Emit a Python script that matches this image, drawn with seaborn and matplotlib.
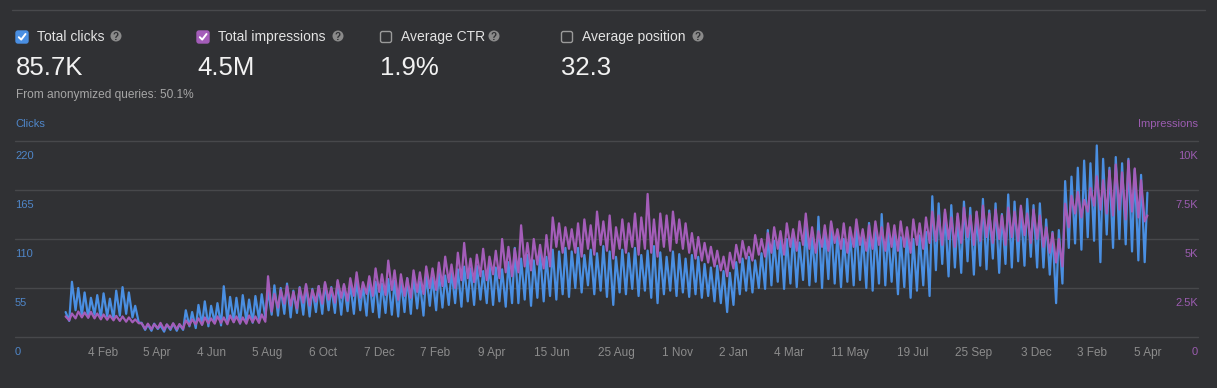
import matplotlib
matplotlib.use('Agg')
import matplotlib.pyplot as plt
import matplotlib.transforms as mtransforms
from matplotlib.patches import FancyBboxPatch, Circle
from matplotlib.lines import Line2D
import seaborn as sns
import pandas as pd

# weekly peaks (Tuesday) and troughs (Saturday)
week_start = '2018-12-24'
clicks_hi = [28, 62,
             55, 50, 44, 47, 49, 43, 52, 56, 50, 35,
             16, 14, 15, 13, 14, 15, 14,
             30, 28, 36, 40, 35, 38, 57, 45, 44, 47, 42, 46,
             48, 52, 58, 55, 60, 52, 56, 58, 54, 57, 60, 56, 62, 58, 60, 64, 58, 66, 62, 60, 65, 63,
             64, 66, 68, 62, 70, 67, 72, 69, 74, 76, 79, 77, 80, 74, 82, 78, 76, 84,
             100, 88, 92, 86, 94, 90, 98, 96, 100,
             96, 100, 92, 98, 94, 102, 96, 90, 98, 94, 100, 92, 97, 102, 95, 90, 96, 93, 88, 92, 90,
             82, 78, 80, 74, 72, 84, 88, 90, 86, 94,
             120, 108, 115, 110, 118, 106, 125, 112, 135, 120, 128, 116, 110, 118, 124, 115, 128, 120, 138, 118,
             116, 112, 120, 110, 114, 118,
             158, 150, 140, 148, 135, 152, 145, 140, 155, 142, 150, 138, 160, 152, 145, 155, 148,
             150, 132, 118, 120, 175,
             180, 190, 198, 195, 215, 200, 190, 202, 195, 200, 188, 182,
             162]
clicks_lo = [18, 30,
             24, 22, 25, 21, 23, 20, 24, 26, 22, 16,
             8, 7, 9, 6, 8, 7, 8,
             12, 10, 14, 12, 16, 13, 18, 17, 15, 18, 16, 20,
             22, 25, 24, 26, 22, 27, 25, 23, 28, 26, 30, 27, 25, 29, 26, 30, 24, 28, 22, 27, 25, 23,
             28, 26, 32, 24, 35, 30, 33, 36, 38, 34, 40, 36, 42, 38, 36, 40, 34, 38,
             38, 42, 35, 44, 40, 46, 42, 48, 45,
             55, 50, 58, 48, 52, 45, 36, 50, 48, 54, 46, 52, 44, 38, 48, 52, 46, 50, 45, 48, 44,
             46, 40, 38, 28, 36, 48, 52, 50, 55, 54,
             58, 62, 54, 60, 56, 64, 58, 62, 55, 65, 60, 56, 62, 58, 64, 55, 52, 60, 58, 62,
             48, 56, 44, 52, 58, 46,
             75, 82, 68, 78, 72, 85, 70, 80, 76, 88, 72, 82, 78, 85, 80, 90, 78,
             78, 70, 38, 60, 100,
             105, 98, 112, 108, 84, 115, 100, 110, 104, 96, 86, 84]
impr_hi = [1050, 1200,
           1300, 1250, 1280, 1200, 1150, 1100, 1080, 1050, 1000, 900,
           700, 680, 650, 720, 640, 700, 660,
           850, 900, 950, 1000, 950, 1050, 1000, 1100, 1050, 1000, 1100, 1050, 1150,
           3100, 2200, 2400, 2600, 2300, 2500, 2700, 2400, 2600, 2800, 2500, 2900, 2700, 3000, 3300, 2800, 3100,
           3500, 3200, 3900, 3400,
           3200, 3000, 3400, 3300, 3600, 3500, 3800, 4100, 3700, 4300, 4800, 4000, 4200, 4500, 4100, 4400, 5000,
           4600,
           4500, 5700, 4800, 5000, 4700, 5200, 6100, 5800, 5600,
           5500, 5800, 6000, 5700, 6400, 5900, 6200, 5600, 6000, 5800, 6300, 6100, 7300, 6000, 6300, 6200, 6400,
           6000, 5800, 5300, 5100,
           4800, 4600, 4400, 4100, 4300, 4700, 4900, 4600, 5200, 5000,
           5300, 5600, 5400, 5800, 5500, 5900, 6300, 5600, 5400, 5700, 5900, 5500, 5800, 5600, 6000, 5500, 5700,
           5900, 5600, 5800,
           5700, 5900, 5600, 6000, 5800, 6100,
           6400, 6200, 6500, 6100, 6300, 6600, 6200, 6400, 6700, 6300, 6500, 6200, 6600, 6400, 6700, 6300, 6500,
           6200, 5600, 5300, 5000, 6800,
           7200, 7400, 7000, 7600, 8200, 8000, 8500, 8800, 8400, 9000, 8600, 8000,
           6200]
impr_lo = [850, 950,
           1000, 980, 950, 900, 880, 850, 820, 780, 750, 700,
           420, 400, 450, 380, 430, 400, 420,
           600, 650, 620, 700, 680, 720, 650, 750, 700, 680, 760, 720, 780,
           1300, 1500, 1700, 1600, 1450, 1750, 1600, 1800, 1700, 1900, 1750, 2000, 1850, 2100, 2000, 2200, 2100,
           2300, 2150, 2400, 1900,
           2100, 2000, 2300, 2200, 2500, 2400, 2600, 2800, 2500, 2900, 3000, 2800, 3100, 2900, 3200, 3000, 3300,
           3100,
           3300, 3600, 3400, 3700, 3500, 3600, 4600, 4300, 4500,
           4300, 4100, 4500, 4200, 4700, 4400, 4000, 4500, 4300, 4600, 4200, 4500, 4300, 4100, 4600, 4400, 4800,
           4500, 4300, 4000, 3900,
           3800, 3600, 3400, 3100, 3500, 3800, 4000, 3900, 4200, 4100,
           4300, 4500, 4200, 4600, 4400, 4700, 4500, 4300, 4600, 4400, 4800, 4500, 4300, 4600, 4700, 4400, 4500,
           4700, 4400, 4600,
           4400, 4600, 4300, 4700, 4500, 4800,
           4900, 4700, 5000, 4600, 4800, 5100, 4700, 4900, 5100, 4800, 5000, 4700, 5100, 4900, 5200, 4800, 5000,
           4600, 4300, 3800, 3600, 5600,
           6300, 6100, 6400, 6700, 6500, 6300, 6200, 6500, 6000, 6400, 6100, 5900]

tick_dates = ['2019-02-04', '2019-04-05', '2019-06-04', '2019-08-05', '2019-10-06', '2019-12-07',
              '2020-02-07', '2020-04-09', '2020-06-15', '2020-08-25', '2020-11-01', '2021-01-02',
              '2021-03-04', '2021-05-11', '2021-07-19', '2021-09-25', '2021-12-03', '2022-02-03',
              '2022-04-05']
tick_labels = ['4 Feb', '5 Apr', '4 Jun', '5 Aug', '6 Oct', '7 Dec', '7 Feb', '9 Apr', '15 Jun',
               '25 Aug', '1 Nov', '2 Jan', '4 Mar', '11 May', '19 Jul', '25 Sep', '3 Dec', '3 Feb', '5 Apr']
clicks_ticks = [0, 55, 110, 165, 220]
clicks_tick_labels = ['0', '55', '110', '165', '220']
impr_ticks = [0, 2500, 5000, 7500, 10000]
impr_tick_labels = ['0', '2.5K', '5K', '7.5K', '10K']

metric_names = ['Total clicks', 'Total impressions', 'Average CTR', 'Average position']
metric_values = ['85.7K', '4.5M', '1.9%', '32.3']

W, H = 1217, 388
BG = '#303134'
GRID = '#47484b'
BLUE = '#4a8fe2'
PURPLE = '#a45db9'
BLUE_TXT = '#4f86c8'
PURPLE_TXT = '#9b5cb0'
GREY_TXT = '#8c8c8c'

weeks = pd.date_range(week_start, periods=len(clicks_hi), freq='7D')
hi = pd.DataFrame({'date': weeks + pd.Timedelta(days=1), 'clicks': clicks_hi, 'impressions': impr_hi})
lo = pd.DataFrame({'date': weeks[:len(clicks_lo)] + pd.Timedelta(days=5),
                   'clicks': clicks_lo, 'impressions': impr_lo})
df = pd.concat([hi, lo]).sort_values('date').reset_index(drop=True)

sns.set_theme(style='dark', rc={'axes.facecolor': BG, 'figure.facecolor': BG})
plt.rcParams['font.family'] = ['Liberation Sans', 'DejaVu Sans']

fig = plt.figure(figsize=(W / 100, H / 100), dpi=100)
# pixel coords, y downwards, for the header widgets
pix = mtransforms.Affine2D().scale(1 / W, -1 / H).translate(0, 1) + fig.transFigure

ax = fig.add_axes([15 / W, (H - 337) / H, 1183 / W, 196 / H])
ax2 = ax.twinx()

sns.lineplot(data=df, x='date', y='clicks', ax=ax, color=BLUE, lw=1.6, estimator=None)
sns.lineplot(data=df, x='date', y='impressions', ax=ax2, color=PURPLE, lw=1.6, estimator=None)

ax.set_xlim(pd.Timestamp('2018-10-30'), pd.Timestamp('2022-05-31'))
ax.set_ylim(0, 220)
ax2.set_ylim(0, 10000)
ax.set_yticks(clicks_ticks)
ax2.set_yticks([])
ax.grid(axis='y', color=GRID, lw=1)
ax.grid(axis='x', visible=False)
for gl in ax.get_ygridlines():
    gl.set_clip_on(False)
ax2.grid(False)
ax.tick_params(axis='y', left=False, labelleft=False)
ax2.tick_params(axis='y', right=False, labelright=False)
ax.set_xticks(pd.to_datetime(tick_dates))
ax.set_xticklabels(tick_labels)
ax.tick_params(axis='x', length=0, pad=7, labelsize=8.5, labelcolor=GREY_TXT)
for a in (ax, ax2):
    a.set_xlabel('')
    a.set_ylabel('')
    for s in a.spines.values():
        s.set_visible(False)

for v, lab in zip(clicks_ticks, clicks_tick_labels):
    ax.annotate(lab, xy=(0, v), xycoords=('axes fraction', 'data'), xytext=(0, -15),
                textcoords='offset pixels', ha='left', va='center', color=BLUE_TXT, fontsize=8)
for v, lab in zip(impr_ticks, impr_tick_labels):
    ax2.annotate(lab, xy=(1, v), xycoords=('axes fraction', 'data'), xytext=(0, -15),
                 textcoords='offset pixels', ha='right', va='center', color=PURPLE_TXT, fontsize=8)

fig.text(15, 124, 'Clicks', transform=pix, ha='left', va='center', color=BLUE_TXT, fontsize=8)
fig.text(1198, 124, 'Impressions', transform=pix, ha='right', va='center', color=PURPLE_TXT, fontsize=8)

# header
fig.add_artist(Line2D([12, 1205], [10, 10], transform=pix, color='#48494c', lw=1))
box_x = [16, 197, 380, 561]
box_col = [BLUE, PURPLE, None, None]
q_x = [116, 338, 494, 698]
for bx, col, name, val, qx in zip(box_x, box_col, metric_names, metric_values, q_x):
    if col:
        fig.add_artist(FancyBboxPatch((bx, 31), 12, 12, boxstyle='round,pad=0,rounding_size=2',
                                      fc=col, ec=col, transform=pix))
        fig.add_artist(Line2D([bx + 2.8, bx + 5.2, bx + 9.5], [37.2, 39.6, 34.0], transform=pix,
                              color='white', lw=1.4, solid_capstyle='round'))
    else:
        fig.add_artist(FancyBboxPatch((bx + 0.5, 31.5), 11, 11, boxstyle='round,pad=0,rounding_size=2',
                                      fc='none', ec='#9a9a9a', lw=1, transform=pix))
    fig.text(bx + 21, 37, name, transform=pix, ha='left', va='center', color='#e3e3e3', fontsize=10)
    fig.add_artist(Circle((qx, 36), 5.5, transform=pix, fc='#8a8a8a', ec='none'))
    fig.text(qx, 36.5, '?', transform=pix, ha='center', va='center', color=BG, fontsize=7,
             fontweight='bold')
    fig.text(bx, 68, val, transform=pix, ha='left', va='center', color='#f2f2f2', fontsize=18.5)

fig.text(16, 95, 'From anonymized queries: 50.1%', transform=pix, ha='left', va='center',
         color='#a6a6a6', fontsize=8.6)

fig.savefig('out.png', dpi=100, facecolor=BG)
